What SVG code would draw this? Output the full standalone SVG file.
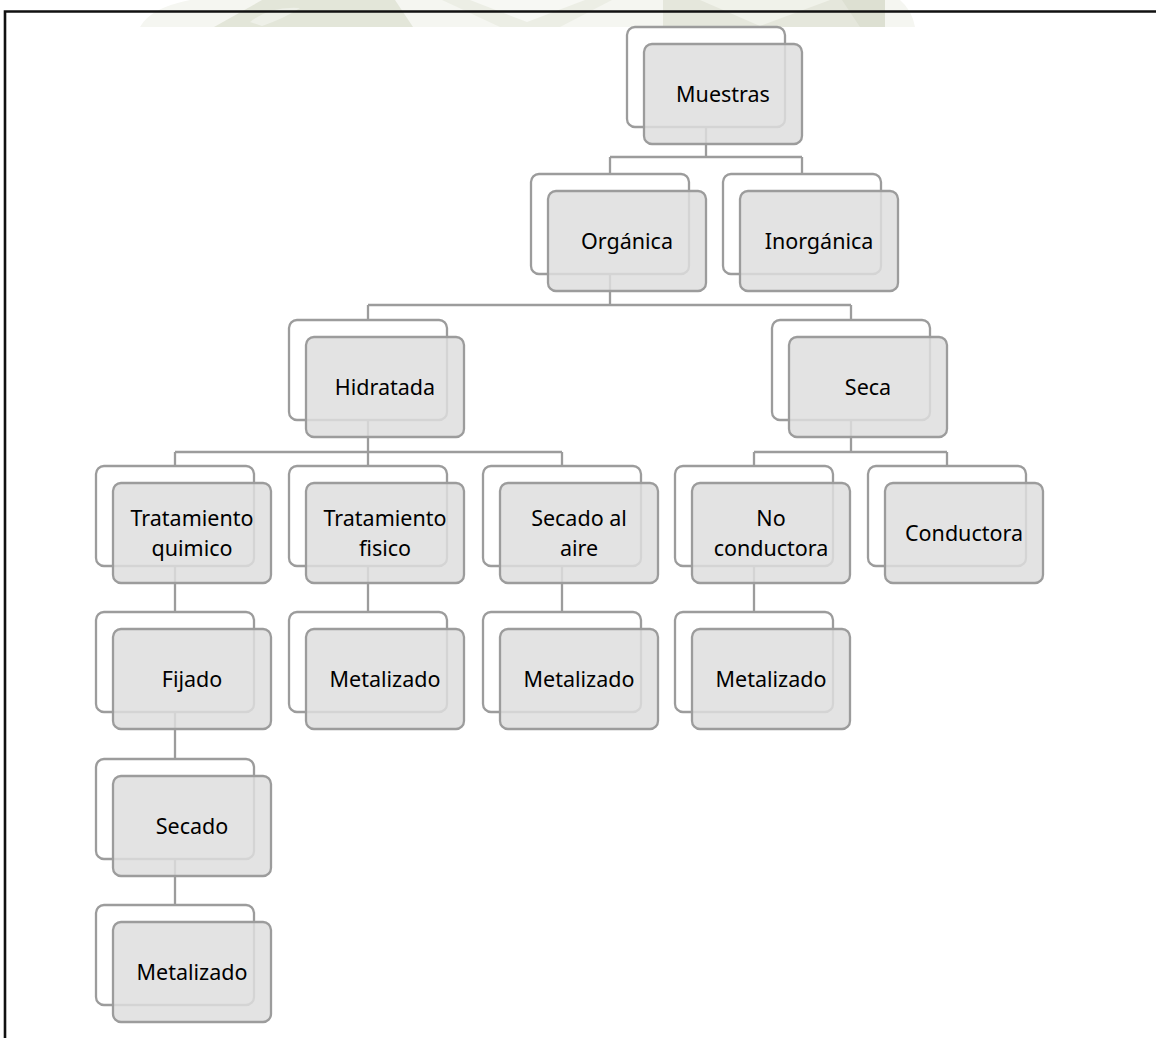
<svg xmlns="http://www.w3.org/2000/svg" width="1156" height="1038" viewBox="0 0 1156 1038">
  <style>
    .back { fill: #ffffff; stroke: #9c9c9c; stroke-width: 2.3; }
    .front { fill: #dedede; fill-opacity: 0.85; stroke: #9c9c9c; stroke-width: 2.3; }
    .lbl { font-family: "Noto Sans", "Open Sans", "Liberation Sans", sans-serif; font-size: 21.5px; fill: #000000; text-anchor: middle; }
    .wire { fill: none; stroke: #9c9c9c; stroke-width: 2.3; }
    .frame { fill: none; stroke: #111111; stroke-width: 2.6; }
  </style>
  <defs>
    <!-- paired card: outlined back card with a translucent grey card offset over it -->
    <g id="card">
      <rect class="back" x="0" y="0" width="158" height="100" rx="8" ry="8"/>
      <rect class="front" x="17" y="17" width="158" height="100" rx="8" ry="8"/>
    </g>
  </defs>

  <rect width="1156" height="1038" fill="#ffffff"/>

  <!-- faint crest in the page header -->
  <g id="crest">
    <path d="M140 27 Q150 8 190 0 H900 Q912 10 915 27 Z" fill="#f5f6f1"/>
    <path d="M214 27 L262 0 H395 L413 27 Z" fill="#e3e6d9"/>
    <path d="M250 22 Q270 6 300 8 Q285 18 262 26 Z" fill="#eef0e8"/>
    <path d="M442 0 H612 L560 27 H500 Z" fill="#eceee5"/>
    <path d="M470 0 L527 22 L585 0 Z" fill="#f7f8f4"/>
    <path d="M663 0 H885 V27 H663 Z" fill="#e5e7dc"/>
    <path d="M700 0 L760 26 L830 0 Z" fill="#f0f2ea"/>
    <path d="M842 0 H885 V27 H860 Z" fill="#dde0d2"/>
  </g>

  <!-- page frame -->
  <path class="frame" d="M1156 11.5 H5 V1038"/>

  <!-- connectors -->
  <g id="connectors">
    <path class="wire" d="M706 127 V157 M610 157 H802 M610 157 V174 M802 157 V174"/>
    <path class="wire" d="M610 274 V305 M368 305 H851 M368 305 V320 M851 305 V320"/>
    <path class="wire" d="M368 420 V452 M175 452 H562 M175 452 V466 M368 452 V466 M562 452 V466"/>
    <path class="wire" d="M851 420 V452 M754 452 H947 M754 452 V466 M947 452 V466"/>
    <path class="wire" d="M175 566 V612 M175 712 V759 M175 859 V905"/>
    <path class="wire" d="M368 566 V612 M562 566 V612 M754 566 V612"/>
  </g>

  <!-- nodes -->
  <g id="n-muestras" transform="translate(627 27)">
    <use href="#card"/>
    <text class="lbl" x="96" y="75">Muestras</text>
  </g>
  <g id="n-organica" transform="translate(531 174)">
    <use href="#card"/>
    <text class="lbl" x="96" y="75">Orgánica</text>
  </g>
  <g id="n-inorganica" transform="translate(723 174)">
    <use href="#card"/>
    <text class="lbl" x="96" y="75">Inorgánica</text>
  </g>
  <g id="n-hidratada" transform="translate(289 320)">
    <use href="#card"/>
    <text class="lbl" x="96" y="75">Hidratada</text>
  </g>
  <g id="n-seca" transform="translate(772 320)">
    <use href="#card"/>
    <text class="lbl" x="96" y="75">Seca</text>
  </g>
  <g id="n-quimico" transform="translate(96 466)">
    <use href="#card"/>
    <text class="lbl" x="96" y="60">Tratamiento<tspan x="96" dy="29.5">quimico</tspan></text>
  </g>
  <g id="n-fisico" transform="translate(289 466)">
    <use href="#card"/>
    <text class="lbl" x="96" y="60">Tratamiento<tspan x="96" dy="29.5">fisico</tspan></text>
  </g>
  <g id="n-aire" transform="translate(483 466)">
    <use href="#card"/>
    <text class="lbl" x="96" y="60">Secado al<tspan x="96" dy="29.5">aire</tspan></text>
  </g>
  <g id="n-noconductora" transform="translate(675 466)">
    <use href="#card"/>
    <text class="lbl" x="96" y="60">No<tspan x="96" dy="29.5">conductora</tspan></text>
  </g>
  <g id="n-conductora" transform="translate(868 466)">
    <use href="#card"/>
    <text class="lbl" x="96" y="75">Conductora</text>
  </g>
  <g id="n-fijado" transform="translate(96 612)">
    <use href="#card"/>
    <text class="lbl" x="96" y="75">Fijado</text>
  </g>
  <g id="n-metal-fisico" transform="translate(289 612)">
    <use href="#card"/>
    <text class="lbl" x="96" y="75">Metalizado</text>
  </g>
  <g id="n-metal-aire" transform="translate(483 612)">
    <use href="#card"/>
    <text class="lbl" x="96" y="75">Metalizado</text>
  </g>
  <g id="n-metal-noconductora" transform="translate(675 612)">
    <use href="#card"/>
    <text class="lbl" x="96" y="75">Metalizado</text>
  </g>
  <g id="n-secado" transform="translate(96 759)">
    <use href="#card"/>
    <text class="lbl" x="96" y="75">Secado</text>
  </g>
  <g id="n-metal-quimico" transform="translate(96 905)">
    <use href="#card"/>
    <text class="lbl" x="96" y="75">Metalizado</text>
  </g>
</svg>
